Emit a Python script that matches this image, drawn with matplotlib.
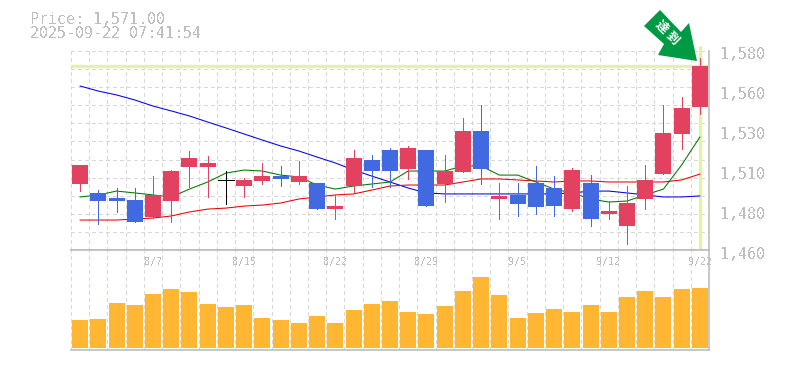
import matplotlib
matplotlib.use("Agg")
import matplotlib.pyplot as plt
from matplotlib.patches import Polygon
from matplotlib.transforms import Affine2D

W, H = 785, 370

GREY = "#BEBEBE"
GRID = "#D8D8D8"
UP = "#E2415F"
DOWN = "#4169E1"
VOL = "#FFB733"
HILITE = "#E2F2A8"

title_lines = ["Price: 1,571.00", "2025-09-22 07:41:54"]

opens = [1501, 1495.7, 1492.7, 1491.5, 1481.4, 1490.9, 1511.1, 1511.1, 1503.1, 1499.8, 1502.8, 1505.7,
         1502.2, 1501.6, 1486.1, 1499.8, 1515.3, 1521.2, 1509.9, 1521.2, 1501, 1508.1, 1532.5, 1492.1,
         1494.5, 1501.6, 1498.6, 1486.1, 1501.6, 1483.2, 1476, 1492.1, 1506.9, 1530.7, 1546.7]
highs = [1512.3, 1497.4, 1498.6, 1498.6, 1505.7, 1509.3, 1520.6, 1517.6, 1508.7, 1504.6, 1513.5, 1511.7,
         1514.7, 1501.6, 1494.5, 1521.2, 1518.2, 1522.4, 1523.6, 1521.2, 1518.2, 1540.2, 1547.9, 1501.6,
         1501.6, 1511.7, 1505.7, 1510.5, 1506.3, 1490.9, 1499.8, 1512.3, 1547.9, 1552.7, 1575.8]
lows = [1496.8, 1477.2, 1484.4, 1478.4, 1480.8, 1478.4, 1499.2, 1493.3, 1489.1, 1493.3, 1501, 1499.8,
        1501, 1486.1, 1480.2, 1496.2, 1499.2, 1499.2, 1504, 1487.9, 1490.3, 1508.1, 1501, 1480.2,
        1482, 1483.2, 1482, 1485, 1476, 1480.2, 1465.4, 1486.1, 1506.9, 1521.8, 1542.6]
closes = [1512.3, 1490.9, 1490.9, 1478.4, 1494.5, 1508.7, 1516.4, 1513.5, 1503.1, 1503.4, 1505.7, 1504,
          1505.7, 1486.1, 1487.9, 1516.4, 1508.7, 1508.7, 1522.4, 1487.9, 1508.7, 1532.5, 1509.9, 1493.9,
          1489.1, 1487.3, 1487.9, 1509.3, 1480.2, 1485, 1489.7, 1503.4, 1531.3, 1546.1, 1571]

ma_short = [1493.3, 1494.5, 1496.8, 1495.7, 1494.5, 1493.3, 1498, 1502.2, 1507.5, 1509.3, 1508.7, 1506.3,
            1505.2, 1500.4, 1498, 1499.8, 1501, 1502.2, 1508.7, 1508.7, 1508.7, 1511.7, 1511.7, 1506.3,
            1506.3, 1502.2, 1498, 1495.7, 1492.1, 1490.3, 1490.9, 1494.5, 1498, 1512.3, 1528.9]
ma_mid = [1479.6, 1479.6, 1479.6, 1480.2, 1480.8, 1482, 1484.4, 1486.1, 1486.7, 1487.9, 1488.5, 1489.7,
          1492.1, 1493.3, 1494.5, 1495.1, 1497.4, 1499.8, 1500.4, 1500.4, 1500.4, 1502.2, 1504, 1504,
          1503.4, 1502.8, 1502.2, 1502.8, 1502.8, 1502.2, 1502.2, 1502.2, 1502.2, 1503.4, 1506.9]
ma_long = [1559.2, 1556.2, 1553.9, 1550.9, 1547.3, 1544.4, 1541.4, 1537.8, 1534.3, 1530.7, 1527.1, 1523.6,
           1520.6, 1517, 1513.5, 1509.3, 1505.7, 1502.2, 1498.6, 1495.7, 1495.1, 1495.1, 1495.1, 1495.1,
           1495.1, 1495.1, 1495.1, 1495.7, 1496.8, 1496.8, 1495.7, 1494.5, 1493.3, 1493.3, 1493.9]

volumes = [28, 29, 45, 43, 54, 59, 56, 44, 41, 43, 30, 28, 25, 32, 25, 38, 44, 47,
           36, 34, 42, 57, 71, 53, 30, 35, 39, 36, 43, 36, 51, 57, 51, 59, 60]

last_price = 1571
price_ticks = [1580, 1556.2, 1532.4, 1508.6, 1484.9, 1461.1]
price_labels = ["1,580", "1,560", "1,530", "1,510", "1,480", "1,460"]
date_ticks = [4, 9, 14, 19, 24, 29, 34]
date_labels = ["8/7", "8/15", "8/22", "8/29", "9/5", "9/12", "9/22"]
arrow_label = ["達", "到"]

plt.rcParams["font.family"] = ["DejaVu Sans Mono"]
plt.rcParams["text.antialiased"] = False


def px_axes(fig, left, top, right, bottom):
    return fig.add_axes([left / W, 1 - bottom / H, (right - left) / W, (bottom - top) / H])


def style_axes(ax):
    ax.set_xlim(-0.5, len(closes) - 0.5)
    ax.set_xticks([i - 0.5 for i in range(len(closes) + 1)])
    ax.tick_params(left=False, bottom=False, labelleft=False, labelbottom=False)
    ax.grid(True, color=GRID, linewidth=0.72, linestyle=(0, (3, 3)), antialiased=False)
    ax.set_axisbelow(True)
    for side in ax.spines:
        ax.spines[side].set_visible(False)
    for side in ("right", "bottom"):
        ax.spines[side].set_visible(True)
        ax.spines[side].set_color(GREY)
        ax.spines[side].set_linewidth(1.2)


fig = plt.figure(figsize=(W / 100, H / 100), dpi=100)
ax = px_axes(fig, 71, 51, 709, 250)
ax_vol = px_axes(fig, 71, 250, 709, 350)
style_axes(ax)
style_axes(ax_vol)

# price panel
ax.set_ylim(1461.8, 1580)
ax.set_yticks([1461.8 + i * (1580 - 1461.8) / 11 for i in range(12)])
ax.axhline(last_price, color=HILITE, linewidth=2.4, zorder=1.5)
ax.plot([34, 34], [1461.8, 1583], color=HILITE, linewidth=2.4, zorder=1.5, clip_on=False, solid_capstyle="butt")

x = list(range(len(closes)))
ax.plot(x, ma_long, color="#0000EE", linewidth=0.75, zorder=2)
ax.plot(x, ma_mid, color="#EE0000", linewidth=0.75, zorder=2)
ax.plot(x, ma_short, color="#007700", linewidth=0.75, zorder=2)

for i in x:
    if closes[i] > opens[i]:
        col = UP
    elif closes[i] < opens[i]:
        col = DOWN
    else:
        col = "black"
    ax.vlines(i, lows[i], highs[i], color=col, linewidth=0.72, antialiased=False, zorder=3)
    if col == "black":
        ax.hlines(closes[i], i - 0.44, i + 0.44, color=col, linewidth=0.72, antialiased=False, zorder=3)
    else:
        ax.bar(i, abs(closes[i] - opens[i]), bottom=min(opens[i], closes[i]), width=0.877,
               color=col, linewidth=0, antialiased=False, zorder=3)

for val, lab in zip(price_ticks, price_labels):
    ax.annotate(lab, xy=(1, val), xycoords=("axes fraction", "data"), xytext=(8, -2.6),
                textcoords="offset points", va="center", ha="left", color=GREY, fontsize=10.8)

# volume panel
ax_vol.set_ylim(-2, 98)
ax_vol.yaxis.grid(False)
ax_vol.spines["top"].set_visible(True)
ax_vol.spines["top"].set_color(GREY)
ax_vol.spines["top"].set_linewidth(1.2)
ax_vol.bar(x, volumes, width=0.877, color=VOL, linewidth=0, antialiased=False, zorder=3)
for i, lab in zip(date_ticks, date_labels):
    ax_vol.text(i, 0.875, lab, transform=ax_vol.get_xaxis_transform(), ha="center", va="center",
                color=GREY, fontsize=7.2)

# header
fig.text(30 / W, 1 - 19 / H, title_lines[0], color=GREY, fontsize=10.8, va="center")
fig.text(30 / W, 1 - 34 / H, title_lines[1], color=GREY, fontsize=10.8, va="center")

# arrow marker, in image pixels
to_fig = Affine2D().scale(1 / W, -1 / H).translate(0, 1) + fig.transFigure
arrow_pts = [(660, 10), (644, 26), (664, 44), (658, 55), (697, 61), (689, 23), (681, 32)]
fig.add_artist(Polygon(arrow_pts, closed=True, facecolor="#009944", edgecolor="none", transform=to_fig))
for ch, (cx, cy) in zip(arrow_label, [(661, 27), (672, 38)]):
    fig.text(cx / W, 1 - cy / H, ch, family=["Noto Sans CJK JP"], weight="bold", color="white",
             fontsize=9, rotation=-45, ha="center", va="center", rotation_mode="anchor", antialiased=True)

fig.savefig("out.png", dpi=100)
